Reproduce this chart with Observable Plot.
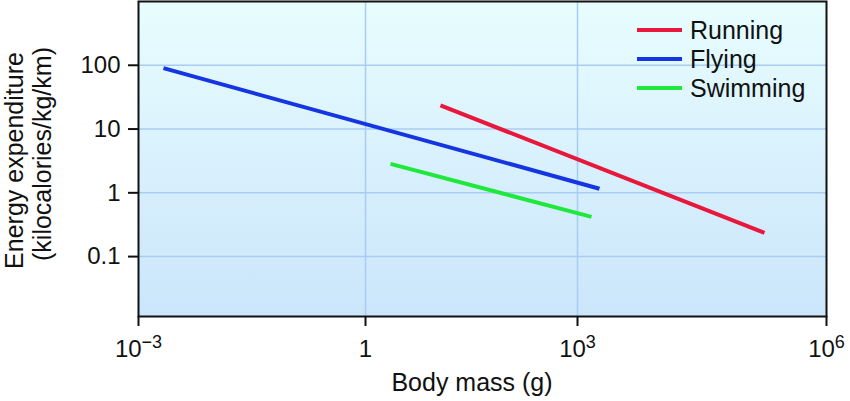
<!DOCTYPE html>
<html>
<head>
<meta charset="utf-8">
<script src="https://cdn.jsdelivr.net/npm/d3@7"></script>
<script src="https://cdn.jsdelivr.net/npm/@observablehq/plot@0.6"></script>
<style>
  html, body { margin: 0; padding: 0; background: #fff; }
  #chart { width: 850px; height: 401px; }
  svg text { font-family: "Liberation Sans", Arial, Helvetica, sans-serif; }
</style>
</head>
<body>
<div id="chart"></div>
<script>
// ---- data ----
const seriesNames = ["Running", "Flying", "Swimming"];
const seriesColors = ["#e8183c", "#1535e2", "#1fe83c"];
const runningMass = [11.5, 179000];
const runningEnergy = [23.5, 0.236];
const flyingMass = [0.00214, 1840];
const flyingEnergy = [90, 1.16];
const swimmingMass = [2.26, 1475];
const swimmingEnergy = [2.85, 0.42];
const xTicks = [1e-3, 1, 1e3, 1e6];
const xTickLabels = [["10", "\u22123"], ["1", ""], ["10", "3"], ["10", "6"]];
const yTicks = [0.1, 1, 10, 100];
const yTickLabels = ["0.1", "1", "10", "100"];
const xGrid = [1, 1e3];
const xTitle = "Body mass (g)";
const yTitleLines = ["Energy expenditure", "(kilocalories/kg/km)"];

const rows = [];
[[runningMass, runningEnergy], [flyingMass, flyingEnergy], [swimmingMass, swimmingEnergy]]
  .forEach(([m, e], i) => m.forEach((v, j) => rows.push({series: seriesNames[i], mass: v, energy: e[j]})));

const W = 850, H = 401;
const mL = 138, mR = 24, mT = 1, mB = 85;
const font = '"Liberation Sans", Arial, Helvetica, sans-serif';
const FS = 25;   // titles & legend
const TFS = 24;  // tick labels

const background = (index, scales, values, dims) => {
  const g = d3.create("svg:g");
  const grad = g.append("defs").append("linearGradient")
    .attr("id", "bgGrad").attr("x1", 0).attr("y1", 0).attr("x2", 0).attr("y2", 1);
  grad.append("stop").attr("offset", "0%").attr("stop-color", "#e7fdfe");
  grad.append("stop").attr("offset", "100%").attr("stop-color", "#cbe5fb");
  g.append("rect")
    .attr("x", dims.marginLeft).attr("y", dims.marginTop)
    .attr("width", dims.width - dims.marginLeft - dims.marginRight)
    .attr("height", dims.height - dims.marginTop - dims.marginBottom)
    .attr("fill", "url(#bgGrad)");
  return g.node();
};

const legend = (index, scales, values, dims) => {
  const g = d3.create("svg:g");
  seriesNames.forEach((name, i) => {
    const y = 30 + i * 29;
    g.append("line").attr("x1", 637).attr("x2", 682).attr("y1", y).attr("y2", y)
      .attr("stroke", seriesColors[i]).attr("stroke-width", 4);
    g.append("text").attr("class", "big").attr("x", 690).attr("y", y).attr("dy", "0.35em")
      .attr("text-anchor", "start")
      .attr("font-family", font).attr("fill", "#111").text(name);
  });
  return g.node();
};

const titles = (index, scales, values, dims) => {
  const g = d3.create("svg:g").attr("font-family", font).attr("fill", "#111");
  g.append("text").attr("class", "big").attr("x", 472).attr("y", 382).attr("dy", "0.35em")
    .attr("text-anchor", "middle").text(xTitle);
  g.append("text").attr("class", "big").attr("transform", "translate(14.5,160.5) rotate(-90)").attr("dy", "0.35em")
    .attr("text-anchor", "middle").text(yTitleLines[0]);
  g.append("text").attr("class", "big").attr("transform", "translate(42,154) rotate(-90)").attr("dy", "0.35em")
    .attr("text-anchor", "middle").text(yTitleLines[1]);
  return g.node();
};

const plot = Plot.plot({
  width: W, height: H,
  marginLeft: mL, marginRight: mR, marginTop: mT, marginBottom: mB,
  style: {fontFamily: font, fontSize: TFS + "px", color: "#111", background: "white"},
  x: {type: "log", domain: [1e-3, 1, 1e3, 1e6], range: [138, 365, 577, 826]},
  y: {type: "log", domain: [0.0115, 1000]},
  color: {domain: seriesNames, range: seriesColors},
  marks: [
    background,
    Plot.gridX(xGrid, {stroke: "#a9ccf2", strokeOpacity: 1, strokeWidth: 1.5}),
    Plot.gridY(yTicks, {stroke: "#a9ccf2", strokeOpacity: 1, strokeWidth: 1.5}),
    Plot.line(rows, {x: "mass", y: "energy", z: "series", stroke: "series", strokeWidth: 4, strokeLinecap: "butt"}),
    Plot.frame({stroke: "#111", strokeWidth: 2}),
    Plot.axisY(yTicks, {tickSize: 10, tickPadding: 8, strokeWidth: 2, label: null,
      tickFormat: (d) => yTickLabels[yTicks.indexOf(d)]}),
    Plot.axisX(xTicks, {tickSize: 10, tickPadding: 13, strokeWidth: 2, label: null,
      tickFormat: (d) => xTickLabels[xTicks.indexOf(d)].join("|")}),
    titles,
    legend
  ]
});

d3.select(plot).selectAll("text").attr("font-size", TFS).attr("fill", "#111");
d3.select(plot).selectAll("text.big").attr("font-size", FS);

// render superscripts on x tick labels as real text tspans
d3.select(plot).selectAll("text").each(function () {
  const t = d3.select(this);
  const s = t.text();
  if (s.includes("|")) {
    const [base, sup] = s.split("|");
    t.text("");
    t.append("tspan").text(base);
    if (sup) t.append("tspan").attr("dy", "-0.45em").attr("font-size", "0.75em").text(sup);
  }
});

document.getElementById("chart").appendChild(plot);
</script>
</body>
</html>
